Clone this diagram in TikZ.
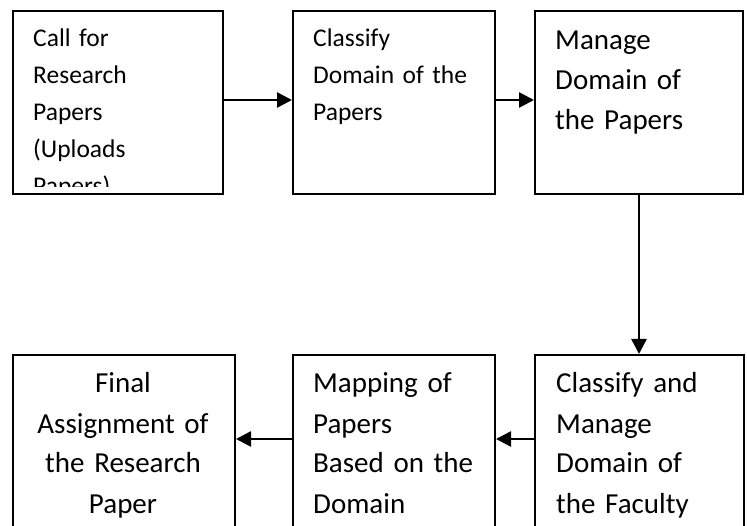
\documentclass[tikz,border=0pt]{standalone}
\usepackage{fontspec}
\setmainfont{Carlito}
\usetikzlibrary{arrows.meta}

\tikzset{
  box/.style={draw, line width=2pt, inner sep=0pt, anchor=north west},
  arr/.style={line width=2.6pt, -{Triangle[length=15pt,width=15pt]}},
  small/.style={inner sep=0pt, anchor=base west, align=left, text width=180pt, font=\fontsize{25.5}{37}\selectfont},
  big/.style={inner sep=0pt, anchor=base west, align=left, text width=190pt, font=\fontsize{29}{40}\selectfont},
}

\begin{document}
\begin{tikzpicture}[x=1pt,y=1pt]
\path[use as bounding box, clip] (0,0) rectangle (747,-526);
% top row
\node[box, minimum width=210pt, minimum height=183pt] (call) at (12,-10) {};
\node[box, minimum width=202pt, minimum height=183pt] (classify) at (292,-10) {};
\node[box, minimum width=208pt, minimum height=183pt] (manpap) at (534,-10) {};
% bottom row
\node[box, minimum width=222pt, minimum height=206pt] (final) at (12,-354) {};
\node[box, minimum width=202pt, minimum height=206pt] (mapping) at (292,-354) {};
\node[box, minimum width=209pt, minimum height=206pt] (manfac) at (534,-354) {};

\begin{scope}
\clip (call.north west) rectangle ([yshift=8pt]call.south east);
\node[small] (callText) at (33,-47) {Call for\\Research\\Papers\\(Uploads\\Papers)};
\end{scope}
\node[small] (classifyText) at (313,-47) {Classify\\Domain of the\\Papers};
\node[big] (manpapText) at (555,-50) {Manage\\Domain of\\the Papers};
\node[big, anchor=base, align=center] (finalText) at (123,-393) {Final\\Assignment of\\the Research\\Paper};
\node[big] (mappingText) at (313,-393) {Mapping of\\Papers\\Based on the\\Domain};
\node[big] (manfacText) at (556,-393) {Classify and\\Manage\\Domain of\\the Faculty};

\draw[arr] ([yshift=2.5pt]call.east) -- ([yshift=2.5pt]classify.west);
\draw[arr] ([yshift=2.5pt]classify.east) -- ([yshift=2.5pt]manpap.west);
\draw[arr] (manpap.south) -- (manpap.south |- manfac.north);
\draw[arr] ([yshift=19pt]manfac.west) -- ([yshift=19pt]mapping.east);
\draw[arr] ([yshift=19pt]mapping.west) -- ([yshift=19pt]final.east);

\end{tikzpicture}
\end{document}
